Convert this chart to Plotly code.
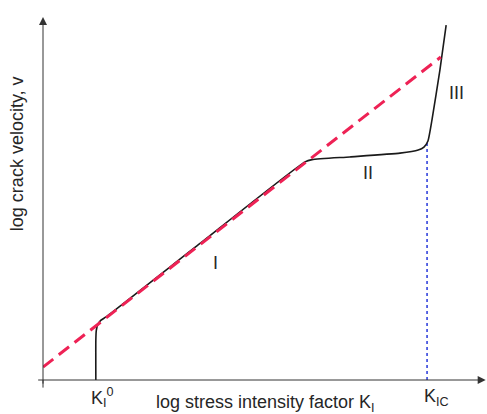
import plotly.graph_objects as go

# Schematic crack-growth (v-K) curve, arbitrary log units on both axes
curve_x = [1.19, 1.19, 1.20, 1.23, 1.30, 1.42, 3.5, 5.90, 6.06, 6.91, 8.04, 8.45, 8.58, 8.67, 8.76, 8.94, 9.08]
curve_y = [0.00, 1.05, 1.30, 1.45, 1.57, 1.66, 3.56, 5.74, 5.80, 5.87, 5.97, 6.05, 6.13, 6.29, 6.84, 8.16, 9.34]

# Power-law fit of region I, extended over the whole K range
fit_x = [0.0, 8.96]
fit_y = [0.34, 8.50]

# Threshold and fracture toughness positions
K_I0 = 1.19
K_IC = 8.65
K_IC_v = 6.24

region_labels = ["I", "II", "III"]
region_x = [3.88, 7.32, 9.32]
region_y = [3.08, 5.45, 7.55]

FONT = "Liberation Sans, Arial, sans-serif"
TXT = "#262626"

fig = go.Figure()

fig.add_trace(go.Scatter(
    x=[K_IC, K_IC], y=[0, K_IC_v], mode="lines",
    line=dict(color="#3344dd", width=1.6, dash="dot"), hoverinfo="skip"))

fig.add_trace(go.Scatter(
    x=curve_x, y=curve_y, mode="lines",
    line=dict(color="#1a1a1a", width=1.6, shape="spline", smoothing=0.5),
    hoverinfo="skip"))

fig.add_trace(go.Scatter(
    x=fit_x, y=fit_y, mode="lines",
    line=dict(color="#ee2255", width=3, dash="13px,7px"), hoverinfo="skip"))

annotations = []
# axis lines with arrowheads
annotations.append(dict(x=0, y=0.955, xref="paper", yref="paper", ax=0, ay=368,
                        text="", showarrow=True, arrowhead=2, arrowsize=1.6,
                        arrowwidth=1, arrowcolor="#333333"))
annotations.append(dict(x=0.997, y=0, xref="paper", yref="paper", ax=-449, ay=0,
                        text="", showarrow=True, arrowhead=2, arrowsize=1.6,
                        arrowwidth=1, arrowcolor="#333333"))

for lbl, xv, yv in zip(region_labels, region_x, region_y):
    annotations.append(dict(x=xv, y=yv, xref="x", yref="y", text=lbl, showarrow=False,
                            xanchor="center", yanchor="middle",
                            font=dict(family=FONT, size=18, color=TXT)))

annotations.append(dict(x=K_I0 + 0.16, y=-0.045, xref="x", yref="paper",
                        text="K<sub>I</sub><sup>0</sup>", showarrow=False,
                        xanchor="center", yanchor="middle",
                        font=dict(family=FONT, size=18, color=TXT)))
annotations.append(dict(x=K_IC + 0.22, y=-0.045, xref="x", yref="paper",
                        text="K<sub>IC</sub>", showarrow=False,
                        xanchor="center", yanchor="middle",
                        font=dict(family=FONT, size=18, color=TXT)))
annotations.append(dict(x=0.5, y=-0.062, xref="paper", yref="paper",
                        text="log stress intensity factor K<sub>I</sub>", showarrow=False,
                        xanchor="center", yanchor="middle",
                        font=dict(family=FONT, size=18, color=TXT)))
annotations.append(dict(x=-0.058, y=0.595, xref="paper", yref="paper",
                        text="log crack velocity, v", showarrow=False, textangle=-90,
                        xanchor="center", yanchor="middle",
                        font=dict(family=FONT, size=18, color=TXT)))

fig.update_layout(
    width=487, height=414,
    margin=dict(l=43, r=0, t=0, b=34),
    paper_bgcolor="white", plot_bgcolor="white",
    showlegend=False,
    xaxis=dict(range=[0, 10], visible=False, fixedrange=True),
    yaxis=dict(range=[0, 10], visible=False, fixedrange=True),
    annotations=annotations,
)
# short stub of the vertical axis below the origin
fig.add_shape(type="line", xref="paper", yref="paper", x0=0, x1=0, y0=-0.02, y1=0,
              line=dict(color="#333333", width=1))

fig.write_html("out.html")
